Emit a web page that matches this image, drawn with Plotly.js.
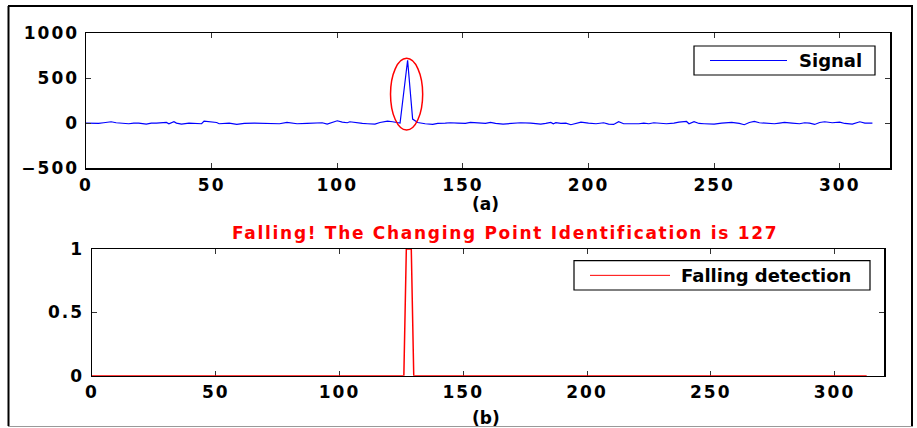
<!DOCTYPE html>
<html>
<head>
<meta charset="utf-8">
<script src="https://cdn.plot.ly/plotly-3.0.1.min.js"></script>
<style>
html,body{margin:0;padding:0;background:#fff}
#chart{width:917px;height:428px}
g[class$="tick"] > text{letter-spacing:2px}
g.annotation[data-index="0"] text{letter-spacing:1.7px}
</style>
</head>
<body>
<div id="chart"></div>
<script>
// ---- data ----
const signalX = [0,3,5,7,10,12,15,17,19,21,24,26,28,31,32,33,35,36,38,41,44,46,47,49,52,53,57,60,63,67,71,74,77,80,82,84,88,92,94,96,98,100,102,104,105,107,110,112,115,117,120,122,124,125,128,130,132,133,135,138,140,143,145,148,151,153,156,159,161,163,166,169,173,177,181,183,185,186,187,189,191,193,195,197,200,203,206,208,210,212,214,217,220,222,224,226,228,231,234,236,239,240,242,244,246,250,253,257,260,262,264,266,268,271,274,276,278,281,284,286,288,290,292,294,297,300,302,305,308,310,312,313];
const signalY = [0,-4,-4,4,15,4,-7,-7,0,0,-11,0,0,0,7,-7,15,0,-11,0,-7,-7,22,15,7,-7,0,-15,-4,0,-4,-11,-7,7,4,-7,-4,4,4,-11,7,26,11,4,15,4,-4,-7,-11,7,22,15,4,0,700,45,7,0,-7,-15,-4,0,4,0,-4,7,0,-4,7,-4,-11,-4,4,0,-11,-4,7,-7,4,-4,0,-18,-4,11,0,-7,4,-11,-15,15,-7,-11,-7,0,-7,4,0,-7,0,11,18,-7,15,-4,-7,-11,0,7,-4,-18,7,18,4,0,-7,0,7,0,-7,4,0,-15,7,15,4,11,-4,-11,15,0,-4,0];
const detectX = [0,126,127,129,130,313];
const detectY = [0,0,1,1,0,0];
const xTicks = [0,50,100,150,200,250,300];
const yTicksTop = [-500,0,500,1000];
const yTicksBottom = [0,0.5,1];
const seriesNames = ['Signal', 'Falling detection'];
const seriesColors = ['#0000ff', '#ff0000'];
const changePoint = 127;
const spikeRegion = {x0: 121.2, x1: 134, y0: -77, y1: 721};

const W = 917, H = 428;
const px = v => v / W;
const py = v => 1 - v / H;
const FAM = 'DejaVu Sans, Arial, sans-serif';
const FONT = {family: FAM, size: 17, color: '#000', weight: 'bold'};
const LFONT = {family: FAM, size: 18, color: '#000', weight: 'bold'};

const axisCommon = {
  showline: true, linecolor: '#000', linewidth: 1.5, mirror: 'ticks',
  ticks: 'inside', ticklen: 5, tickcolor: '#333', tickwidth: 1,
  showgrid: false, zeroline: false, tickfont: FONT, fixedrange: true
};

const data = [
  {x: signalX, y: signalY, type: 'scatter', mode: 'lines', name: seriesNames[0],
   line: {color: seriesColors[0], width: 1.2}, xaxis: 'x', yaxis: 'y'},
  {x: detectX, y: detectY, type: 'scatter', mode: 'lines', name: seriesNames[1],
   line: {color: seriesColors[1], width: 1.5}, xaxis: 'x2', yaxis: 'y2'}
];

// legend boxes (pixel geometry of the reference)
const legends = [
  {box: [694, 46, 875, 75], line: [710, 787], textX: 797},
  {box: [574, 260.7, 870, 290], line: [590, 670], textX: 679}
];

const shapes = [
  {type: 'circle', xref: 'x', yref: 'y', x0: spikeRegion.x0, x1: spikeRegion.x1, y0: spikeRegion.y0, y1: spikeRegion.y1,
   line: {color: '#ff0000', width: 1.5}},
  {type: 'line', xref: 'paper', yref: 'paper', x0: px(8), x1: px(913), y0: py(6), y1: py(6), line: {color: '#000', width: 2}},
  {type: 'line', xref: 'paper', yref: 'paper', x0: px(8.5), x1: px(8.5), y0: py(6), y1: py(426), line: {color: '#000', width: 2}},
  {type: 'line', xref: 'paper', yref: 'paper', x0: px(912), x1: px(912), y0: py(6), y1: py(426), line: {color: '#000', width: 2}},
  {type: 'line', xref: 'paper', yref: 'paper', x0: px(8), x1: px(913), y0: py(426.5), y1: py(426.5), line: {color: '#999', width: 1}}
];
const annotations = [
  {text: 'Falling! The Changing Point Identification is ' + changePoint, xref: 'paper', yref: 'paper', x: px(505), y: py(233),
   showarrow: false, xanchor: 'center', yanchor: 'middle',
   font: {family: FAM, size: 17, color: '#ff0000', weight: 'bold'}},
  {text: '(a)', xref: 'paper', yref: 'paper', x: px(486), y: py(204), showarrow: false, font: FONT, xanchor: 'center', yanchor: 'middle'},
  {text: '(b)', xref: 'paper', yref: 'paper', x: px(486), y: py(418), showarrow: false, font: FONT, xanchor: 'center', yanchor: 'middle'}
];
legends.forEach((lg, i) => {
  const [bx0, by0, bx1, by1] = lg.box;
  const cy = (by0 + by1) / 2;
  shapes.push({type: 'rect', xref: 'paper', yref: 'paper', x0: px(bx0), x1: px(bx1), y0: py(by1), y1: py(by0),
               line: {color: '#000', width: 1.2}, fillcolor: '#fff'});
  shapes.push({type: 'line', xref: 'paper', yref: 'paper', x0: px(lg.line[0]), x1: px(lg.line[1]), y0: py(cy), y1: py(cy),
               line: {color: seriesColors[i], width: 1}});
  annotations.push({text: seriesNames[i], xref: 'paper', yref: 'paper', x: px(lg.textX), y: py(cy),
                    showarrow: false, xanchor: 'left', yanchor: 'middle', font: LFONT});
});

const layout = {
  width: W, height: H,
  margin: {l: 0, r: 0, t: 0, b: 0},
  paper_bgcolor: '#fff', plot_bgcolor: '#fff',
  showlegend: false,
  xaxis: Object.assign({}, axisCommon, {domain: [px(86), px(890)], range: [0, 320], tickvals: xTicks, anchor: 'y', ticklabelstandoff: 1}),
  yaxis: Object.assign({}, axisCommon, {domain: [py(168), py(33.3)], range: [-500, 1000], tickvals: yTicksTop, anchor: 'x', ticklabelstandoff: 2}),
  xaxis2: Object.assign({}, axisCommon, {domain: [px(92), px(884)], range: [0, 320], tickvals: xTicks, anchor: 'y2', layer: 'below traces', ticklabelstandoff: 0}),
  yaxis2: Object.assign({}, axisCommon, {domain: [py(375.7), py(249)], range: [0, 1], tickvals: yTicksBottom, anchor: 'x2', ticklabelstandoff: 3}),
  shapes: shapes,
  annotations: annotations
};

Plotly.newPlot('chart', data, layout, {displayModeBar: false, staticPlot: true});
</script>
</body>
</html>
